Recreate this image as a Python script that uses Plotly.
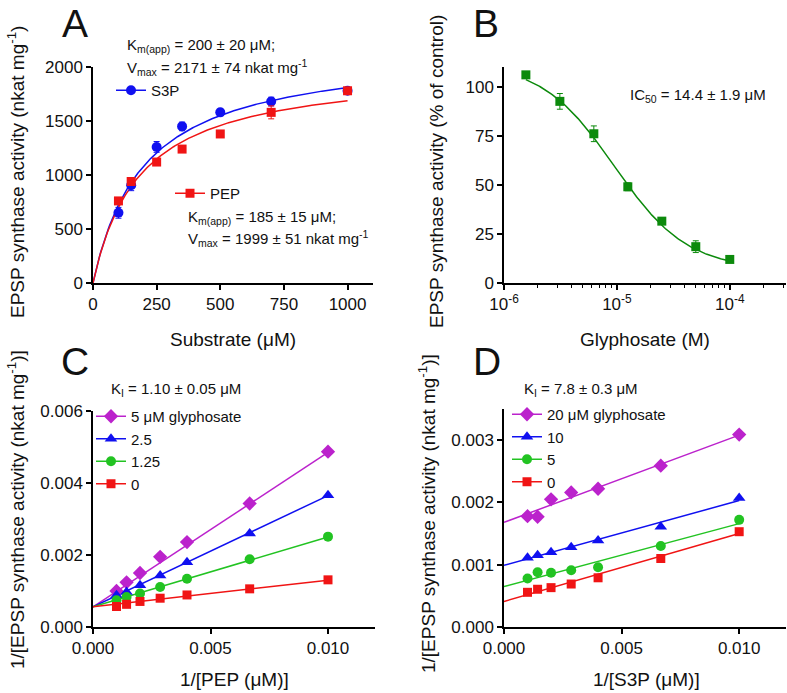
import numpy as np
import plotly.graph_objects as go

W, H = 787, 693
FONT = "Liberation Sans, Arial, sans-serif"

# ---------------- Data ----------------
# Panel A: Michaelis-Menten saturation
subA = [100, 150, 250, 350, 500, 700, 1000]
s3p_act = [650, 905, 1260, 1450, 1580, 1680, 1780]
s3p_err = [50, 50, 50, 40, 30, 40, 30]
pep_act = [760, 940, 1120, 1240, 1380, 1580, 1780]
pep_err = [20, 30, 20, 20, 25, 60, 30]
s3p_fit = {"Vmax": 2171, "Km": 200}
pep_fit = {"Vmax": 1999, "Km": 185}

# Panel B: glyphosate dose-response
gly_M = [1.5625e-6, 3.125e-6, 6.25e-6, 1.25e-5, 2.5e-5, 5e-5, 1e-4]
gly_act = [106, 92.5, 76, 49, 31.5, 18.5, 12]
gly_err = [1.5, 4, 4, 2, 1.5, 3, 1]
b_fit = {"top": 112, "bottom": 7, "ic50": 9.5e-6, "hill": 1.35}

# Panel C: 1/[PEP] Lineweaver-Burk
inv_sub = [0.001, 1 / 700, 0.002, 1 / 350, 0.004, 1 / 150, 0.010]
C_labels = ["5 μM glyphosate", "2.5", "1.25", "0"]
C_vals = [
    [0.00100, 0.00124, 0.00150, 0.00195, 0.00236, 0.00343, 0.00487],
    [0.00088, 0.00097, 0.00116, 0.00143, 0.00180, 0.00260, 0.00366],
    [0.00074, 0.00083, 0.00093, 0.00111, 0.00134, 0.00188, 0.00251],
    [0.00057, 0.00063, 0.00071, 0.00080, 0.00089, 0.00106, 0.00131],
]
C_int = [0.00056, 0.00056, 0.00056, 0.00056]
C_slope = [0.429, 0.309, 0.194, 0.074]

# Panel D: 1/[S3P] Lineweaver-Burk
D_labels = ["20 μM glyphosate", "10", "5", "0"]
D_vals = [
    [0.00178, 0.00177, 0.00205, 0.00216, 0.00222, 0.00259, 0.00309],
    [0.00111, 0.00115, 0.00120, 0.00128, 0.00139, 0.00161, 0.00207],
    [0.00078, 0.00088, 0.00087, 0.00091, 0.00096, 0.00130, 0.00172],
    [0.000557, 0.000606, 0.000632, 0.00069, 0.00079, 0.00110, 0.00153],
]
D_int = [0.00168, 0.00099, 0.00065, 0.00041]
D_slope = [0.140, 0.104, 0.101, 0.109]

# ---------------- Styles ----------------
RED = "#f01414"
BLUE = "#1010f0"
DGREEN = "#0c8a0c"
LGREEN = "#22c322"
MAG = "#bb22cc"
series_colors = [MAG, BLUE, LGREEN, RED]
series_symbols = ["diamond", "triangle-up", "circle", "square"]
series_sizes = [11, 11, 10, 9]


def px_x(p):
    return p / W


def px_y(p):
    return 1 - p / H


fig = go.Figure()


def add_points(x, y, err, color, symbol, size, xa, ya):
    kw = dict(x=x, y=y, mode="markers", xaxis=xa, yaxis=ya, showlegend=False,
              marker=dict(color=color, symbol=symbol, size=size, line=dict(width=0)),
              cliponaxis=False)
    if err is not None:
        kw["error_y"] = dict(type="data", array=err, color=color, thickness=1, width=3)
    fig.add_trace(go.Scatter(**kw))


def add_line(x, y, color, xa, ya):
    fig.add_trace(go.Scatter(x=x, y=y, mode="lines", xaxis=xa, yaxis=ya, showlegend=False,
                             line=dict(color=color, width=1.5), hoverinfo="skip"))


def add_legend_entry(name, color, symbol, size, legend):
    fig.add_trace(go.Scatter(x=[None], y=[None], mode="lines+markers", name=name,
                             legend=legend, xaxis="x", yaxis="y",
                             line=dict(color=color, width=1.5),
                             marker=dict(color=color, symbol=symbol, size=size)))


# Panel A
xs = np.linspace(0, 1000, 200)
add_line(xs, s3p_fit["Vmax"] * xs / (s3p_fit["Km"] + xs), BLUE, "x", "y")
add_line(xs, pep_fit["Vmax"] * xs / (pep_fit["Km"] + xs), RED, "x", "y")
add_points(subA, s3p_act, s3p_err, BLUE, "circle", 10, "x", "y")
add_points(subA, pep_act, pep_err, RED, "square", 9, "x", "y")
add_legend_entry("S3P", BLUE, "circle", 10, "legend")
add_legend_entry("PEP", RED, "square", 9, "legend2")

# Panel B
xb = np.logspace(np.log10(gly_M[0]), np.log10(gly_M[-1]), 200)
yb = b_fit["bottom"] + (b_fit["top"] - b_fit["bottom"]) / (1 + (xb / b_fit["ic50"]) ** b_fit["hill"])
add_line(xb, yb, DGREEN, "x2", "y2")
add_points(gly_M, gly_act, gly_err, DGREEN, "square", 9, "x2", "y2")

# Panel C
xl = np.array([0.0, 0.010])
for i in range(4):
    add_line(xl, C_int[i] + C_slope[i] * xl, series_colors[i], "x3", "y3")
for i in range(4):
    add_points(inv_sub, C_vals[i], None, series_colors[i], series_symbols[i], series_sizes[i], "x3", "y3")
    add_legend_entry(C_labels[i], series_colors[i], series_symbols[i], series_sizes[i], "legend3")

# Panel D
for i in range(4):
    add_line(xl, D_int[i] + D_slope[i] * xl, series_colors[i], "x4", "y4")
for i in range(4):
    add_points(inv_sub, D_vals[i], None, series_colors[i], series_symbols[i], series_sizes[i], "x4", "y4")
    add_legend_entry(D_labels[i], series_colors[i], series_symbols[i], series_sizes[i], "legend4")

# ---------------- Axes ----------------
axis_common = dict(showline=True, linecolor="black", linewidth=1.5, ticks="outside",
                   ticklen=5, tickwidth=1.5, tickcolor="black", showgrid=False,
                   zeroline=False, automargin=False,
                   tickfont=dict(family=FONT, size=17, color="#111"))

fig.update_layout(
    xaxis=dict(domain=[px_x(93), px_x(373)], range=[0, 1100], tickvals=[0, 250, 500, 750, 1000],
               anchor="y", **axis_common),
    yaxis=dict(domain=[px_y(283), px_y(67)], range=[0, 2000], tickvals=[0, 500, 1000, 1500, 2000],
               anchor="x", **axis_common),
    xaxis2=dict(domain=[px_x(504), 0.999], type="log", range=[-6, -3.5],
                tickvals=[1e-6, 1e-5, 1e-4],
                ticktext=["10<sup>-6</sup>", "10<sup>-5</sup>", "10<sup>-4</sup>"],
                minor=dict(ticks="outside", ticklen=3, tickwidth=1.2, tickcolor="black",
                           tickvals=[m * 10.0 ** e for e in (-6, -5, -4) for m in range(2, 10)]),
                anchor="y2", **axis_common),
    yaxis2=dict(domain=[px_y(283), px_y(67)], range=[0, 110], tickvals=[0, 25, 50, 75, 100],
                anchor="x2", **axis_common),
    xaxis3=dict(domain=[px_x(93), px_x(375)], range=[0, 0.012], tickvals=[0, 0.005, 0.010],
                tickformat=".3f", anchor="y3", **axis_common),
    yaxis3=dict(domain=[px_y(627), px_y(411)], range=[0, 0.006],
                tickvals=[0, 0.002, 0.004, 0.006], tickformat=".3f", anchor="x3", **axis_common),
    xaxis4=dict(domain=[px_x(504), 0.999], range=[0, 0.012], tickvals=[0, 0.005, 0.010],
                tickformat=".3f", anchor="y4", **axis_common),
    yaxis4=dict(domain=[px_y(627), px_y(409)], range=[0, 0.0035],
                tickvals=[0, 0.001, 0.002, 0.003], tickformat=".3f", anchor="x4", **axis_common),
)

leg_common = dict(bgcolor="rgba(0,0,0,0)", font=dict(family=FONT, size=15, color="#111"),
                  xanchor="left", yanchor="top", itemwidth=30, tracegroupgap=0)
fig.update_layout(
    legend=dict(x=px_x(111), y=px_y(74), **leg_common),
    legend2=dict(x=px_x(170), y=px_y(177), **leg_common),
    legend3=dict(x=px_x(91), y=px_y(400), **leg_common),
    legend4=dict(x=px_x(507), y=px_y(398), **leg_common),
)

# ---------------- Text ----------------
ann = []


def text(t, x, y, size=15, xanchor="left", yanchor="middle", angle=0):
    ann.append(dict(text=t, x=px_x(x), y=px_y(y), xref="paper", yref="paper",
                    xanchor=xanchor, yanchor=yanchor, showarrow=False, textangle=angle,
                    font=dict(family=FONT, size=size, color="#111")))


# Panel letters
for letter, lx, ly in [("A", 75, 23), ("B", 486, 23), ("C", 75, 361), ("D", 487, 361)]:
    text(letter, lx, ly, size=39, xanchor="center")

# Panel A annotations
text("K<sub>m(app)</sub> = 200 ± 20 μM;", 125, 45)
text("V<sub>max</sub> = 2171 ± 74 nkat mg<sup>-1</sup>", 125, 67)
text("K<sub>m(app)</sub> = 185 ± 15 μM;", 186, 217)
text("V<sub>max</sub> = 1999 ± 51 nkat mg<sup>-1</sup>", 186, 238)
# Panel B
text("IC<sub>50</sub> = 14.4 ± 1.9 μM", 628, 95)
# Panel C / D
text("K<sub>I</sub> = 1.10 ± 0.05 μM", 109, 389)
text("K<sub>I</sub> = 7.8 ± 0.3 μM", 522, 389)

# Axis titles
text("Substrate (μM)", 233, 339, size=19, xanchor="center")
text("Glyphosate (M)", 645, 339, size=19, xanchor="center")
text("1/[PEP (μM)]", 234, 679, size=19, xanchor="center")
text("1/[S3P (μM)]", 646, 679, size=19, xanchor="center")
text("EPSP synthase activity (nkat mg<sup>-1</sup>)", 16, 172, size=19, xanchor="center", angle=-90)
text("EPSP synthase activity (% of control)", 436, 172, size=19, xanchor="center", angle=-90)
text("1/[EPSP synthase activity (nkat mg<sup>-1</sup>)]", 16, 510, size=19, xanchor="center", angle=-90)
text("1/[EPSP synthase activity (nkat mg<sup>-1</sup>)]", 427, 513, size=19, xanchor="center", angle=-90)

fig.update_layout(annotations=ann, width=W, height=H,
                  margin=dict(l=0, r=0, t=0, b=0, pad=0, autoexpand=False),
                  paper_bgcolor="white", plot_bgcolor="white",
                  font=dict(family=FONT, color="#111"))

fig.write_html("out.html", config={"displayModeBar": False},
               post_script="document.body.style.margin='0px';")
